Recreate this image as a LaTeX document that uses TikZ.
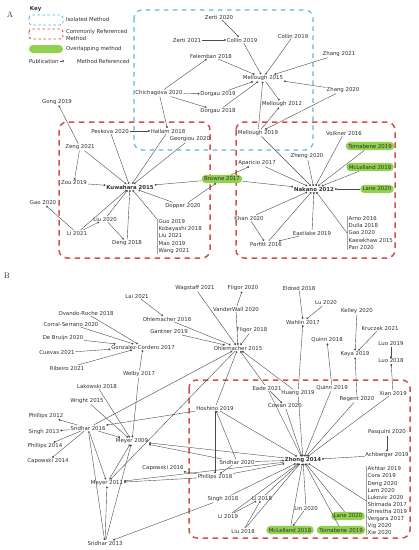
\documentclass[tikz,border=0pt]{standalone}
\usepackage{fontspec}
\newfontfamily\pubfont{DejaVu Sans}
\usetikzlibrary{arrows.meta}
\definecolor{txt}{HTML}{303030}
\definecolor{lin}{HTML}{4A4A4A}
\definecolor{kblue}{HTML}{5BB5E5}
\definecolor{kred}{HTML}{D0504D}
\definecolor{kgreen}{HTML}{92D050}
\definecolor{barg}{HTML}{A0A0A0}
\begin{document}
\begin{tikzpicture}[x=1pt,y=-1pt,
 pub/.style={font=\pubfont\fontsize{5.4}{7.1}\selectfont, text=txt, inner sep=0.8pt},
 pubb/.style={pub, font=\pubfont\bfseries\fontsize{5.4}{7.1}\selectfont},
 over/.style={pub, fill=kgreen, rounded corners=4pt, inner xsep=2.5pt, inner ysep=2pt},
 ref/.style={draw=lin, line width=0.4pt, -{Circle[length=1.9pt]}},
 isobox/.style={draw=kblue, line width=1.2pt, dash pattern=on 4.5pt off 4.5pt, rounded corners=8pt},
 combox/.style={draw=kred, line width=1.5pt, dash pattern=on 5.5pt off 4.5pt, rounded corners=8pt},
 plist/.style={pub, align=left, inner xsep=1.5pt, inner ysep=0.5pt},
 listbar/.style={draw=barg, line width=1pt},
 panel/.style={font=\fontsize{8}{9}\selectfont, text=txt},
]
\useasboundingbox (0,0) rectangle (419,550);
% ---------------- key ----------------
\node[panel] (lblA) at (10,15) {A};
\node[panel] (lblB) at (7,276) {B};
\node[pubb, anchor=west] (ktitle) at (29,9) {Key};
\draw[isobox, line width=0.9pt, dash pattern=on 2.5pt off 2.5pt, rounded corners=3pt] (29,15) rectangle (63,25);
\node[pub, anchor=west] (kiso) at (65,19) {Isolated Method};
\draw[combox, line width=0.9pt, dash pattern=on 2.5pt off 2.5pt, rounded corners=3pt] (29,29) rectangle (63,39);
\node[pub, anchor=west, align=left] (kcom) at (65,35) {Commonly Referenced\\Method};
\fill[kgreen, rounded corners=4pt] (29,45) rectangle (63,53);
\node[pub, anchor=west] (kover) at (65,49) {Overlapping method};
\node[pub, anchor=west] (kpub) at (28,61) {Publication};
\coordinate (kend) at (64,61);
\draw[ref] (kpub) -- (kend);
\node[pub, anchor=west] (kmeth) at (76,61) {Method Referenced};
% ---------------- boxes A ----------------
\draw[isobox] (134,10) rectangle (313,150);
\draw[combox] (59,122) rectangle (210,258);
\draw[combox] (236,122) rectangle (395,258);
% ---------------- nodes A ----------------
\node[pub] (zerti20) at (219,17) {Zerti 2020};
\node[pub] (zerti21) at (187,40) {Zerti 2021};
\node[pub] (collinL) at (242,40) {Collin 2019};
\node[pub] (collinR) at (293,36) {Collin 2019};
\node[pub] (felemban) at (211,56) {Felemban 2018};
\node[pub] (mellough15) at (263,78) {Mellough 2015};
\node[pub] (zhang21) at (339,54) {Zhang 2021};
\node[pub] (zhang20) at (343,90) {Zhang 2020};
\node[pub] (chicha) at (159,93) {Chichagova 2020};
\node[pub] (dorgau19) at (218,94) {Dorgau 2019};
\node[pub] (dorgau18) at (218,111) {Dorgau 2018};
\node[pub] (mellough12) at (282,104) {Mellough 2012};
\node[pub] (mellough19) at (258,133) {Mellough 2019};
\node[pub] (hallam) at (168,131) {Hallam 2018};
\node[pub] (georgiou) at (190,139) {Georgiou 2020};
\node[pub] (peskova) at (110,131) {Peskova 2020};
\node[pub] (gong) at (57,102) {Gong 2019};
\node[pub] (zeng) at (80,147) {Zeng 2021};
\node[pub] (zou) at (74,183) {Zou 2019};
\node[pubb] (kuwahara) at (130,187) {Kuwahara 2015};
\node[pub] (gao) at (43,203) {Gao 2020};
\node[pub] (liu20) at (105,219) {Liu 2020};
\node[pub] (li21) at (77,233) {Li 2021};
\node[pub] (deng18) at (127,243) {Deng 2018};
\node[over] (browne) at (222,179) {Browne 2017};
\node[pub] (dopper) at (183,206) {Dopper 2020};
\node[plist, anchor=north west] (listK) at (157,219) {Guo 2019\\Kobayashi 2018\\Liu 2021\\Mao 2019\\Wang 2021};
\draw[listbar] (listK.north west) -- (listK.south west);
\node[pub] (aparicio) at (257,163) {Aparicio 2017};
\node[pub] (zheng) at (307,156) {Zheng 2020};
\node[pub] (volkner) at (344,133) {Volkner 2016};
\node[over] (tornabeneA) at (370,146) {Tornabene 2019};
\node[over] (mclellandA) at (370,167) {McLelland 2018};
\node[over] (laneA) at (377,189) {Lane 2020};
\node[pubb] (nakano) at (314,189) {Nakano 2012};
\node[pub] (khan) at (249,218) {Khan 2020};
\node[pub] (parfitt) at (266,244) {Parfitt 2016};
\node[pub] (eastlake) at (312,233) {Eastlake 2019};
\node[plist, anchor=north west] (listN) at (347,216) {Arno 2016\\Dulla 2018\\Gao 2020\\Kaewkhaw 2015\\Pan 2020};
\draw[listbar] (listN.north west) -- (listN.south west);
% ---------------- edges A ----------------
\draw[ref] (zerti20) -- (collinL);
\draw[ref] (zerti21) -- (collinL);
\draw[ref] (collinL) -- (mellough15);
\draw[ref] (felemban) -- (mellough15);
\draw[ref] (chicha) -- (felemban);
\draw[ref] (chicha) -- (dorgau19);
\draw[ref] (chicha) -- (dorgau18);
\draw[ref] (chicha) -- (hallam);
\draw[ref] (dorgau19) -- (mellough15);
\draw[ref] (dorgau18) -- (mellough15);
\draw[ref] (collinR) -- (mellough15);
\draw[ref] (zhang21) -- (mellough15);
\draw[ref] (zhang20) -- (mellough15);
\draw[ref] (zhang20) -- (mellough19);
\draw[ref] (mellough15) -- (mellough12);
\draw[ref] (mellough19) -- (mellough12);
\draw[ref] (mellough19) -- (mellough15);
\draw[ref] (mellough19) -- (nakano);
\draw[ref] (peskova) -- (hallam);
\draw[ref] (peskova) -- (kuwahara);
\draw[ref] (hallam) -- (kuwahara);
\draw[ref] (georgiou) -- (kuwahara);
\draw[ref] (zeng) -- (gong);
\draw[ref] (zeng) -- (zou);
\draw[ref] (zeng) -- (kuwahara);
\draw[ref] (zou) -- (kuwahara);
\draw[ref] (li21) -- (gao);
\draw[ref] (li21) -- (kuwahara);
\draw[ref] (li21) -- (liu20);
\draw[ref] (liu20) -- (kuwahara);
\draw[ref] (liu20) -- (deng18);
\draw[ref] (deng18) -- (kuwahara);
\draw[ref] (browne) -- (kuwahara);
\draw[ref] (dopper) -- (browne);
\draw[ref] (dopper) -- (kuwahara);
\draw[ref] (listK.north west) -- (kuwahara);
\draw[ref] (browne) -- (nakano);
\draw[ref] (browne) -- (aparicio);
\draw[ref] (aparicio) -- (nakano);
\draw[ref] (zheng) -- (nakano);
\draw[ref] (volkner) -- (nakano);
\draw[ref] (tornabeneA) -- (nakano);
\draw[ref] (mclellandA) -- (nakano);
\draw[ref] (laneA) -- (nakano);
\draw[ref] (khan) -- (nakano);
\draw[ref] (khan) -- (parfitt);
\draw[ref] (parfitt) -- (nakano);
\draw[ref] (eastlake) -- (parfitt);
\draw[ref] (eastlake) -- (nakano);
\draw[ref] (listN.west) -- (nakano);
% ---------------- box B ----------------
\draw[combox] (189,380) rectangle (410,538);
% ---------------- nodes B ----------------
\node[pub] (lai) at (137,296) {Lai 2021};
\node[pub] (ovando) at (86,313) {Ovando-Roche 2018};
\node[pub] (corral) at (71,324) {Corral-Serrano 2020};
\node[pub] (debruijn) at (63,338) {De Bruijn 2020};
\node[pub] (cuevas) at (57,353) {Cuevas 2021};
\node[pub] (ribeiro) at (67,368) {Ribeiro 2021};
\node[pub] (gonzalez) at (143,347) {Gonzalez-Cordero 2017};
\node[pub] (welby) at (139,374) {Welby 2017};
\node[pub] (lakowski) at (97,386) {Lakowski 2018};
\node[pub] (wright) at (87,401) {Wright 2015};
\node[pub] (phillips12) at (46,416) {Phillips 2012};
\node[pub] (singh13) at (44,432) {Singh 2013};
\node[pub] (phillips14) at (45,446) {Phillips 2014};
\node[pub] (capowski14) at (48,461) {Capowski 2014};
\node[pub] (sridhar16) at (88,428) {Sridhar 2016};
\node[pub] (meyer09) at (132,441) {Meyer 2009};
\node[pub] (meyer11) at (107,483) {Meyer 2011};
\node[pub] (sridhar13) at (105,543) {Sridhar 2013};
\node[pub] (wagstaff) at (195,288) {Wagstaff 2021};
\node[pub] (fligor20) at (243,288) {Fligor 2020};
\node[pub] (vanderwall) at (236,309) {VanderWall 2020};
\node[pub] (ohl16) at (167,319) {Ohlemacher 2016};
\node[pub] (gantner) at (169,332) {Gantner 2019};
\node[pub] (fligor18) at (252,330) {Fligor 2018};
\node[pub] (ohl15) at (238,348) {Ohlemacher 2015};
\node[pub] (eldred) at (299,288) {Eldred 2018};
\node[pub] (lu20) at (326,303) {Lu 2020};
\node[pub] (wahlin) at (303,322) {Wahlin 2017};
\node[pub] (quinn18) at (327,340) {Quinn 2018};
\node[pub] (kelley) at (357,311) {Kelley 2020};
\node[pub] (kruczek) at (380,328) {Kruczek 2021};
\node[pub] (kaya) at (355,354) {Kaya 2019};
\node[pub] (luo19) at (391,344) {Luo 2019};
\node[pub] (luo18) at (391,361) {Luo 2018};
\node[pub] (eade) at (267,388) {Eade 2021};
\node[pub] (cowan) at (285,406) {Cowan 2020};
\node[pub] (huang) at (298,393) {Huang 2019};
\node[pub] (quinn19) at (332,388) {Quinn 2019};
\node[pub] (regent) at (357,399) {Regent 2020};
\node[pub] (xian) at (393,393) {Xian 2019};
\node[pub] (hoshino) at (215,408) {Hoshino 2019};
\node[pub] (sridhar20) at (237,462) {Sridhar 2020};
\node[pub] (capowski16) at (163,468) {Capowski 2016};
\node[pub] (phillips18) at (215,477) {Phillips 2018};
\node[pub] (singh18) at (223,499) {Singh 2018};
\node[pub] (li18) at (262,498) {Li 2018};
\node[pub] (li19) at (228,516) {Li 2019};
\node[pub] (liu18) at (243,531) {Liu 2018};
\node[over] (mclellandB) at (290,530) {McLelland 2018};
\node[pub] (lin) at (306,508) {Lin 2020};
\node[over] (laneB) at (348,516) {Lane 2020};
\node[over] (tornabeneB) at (341,530) {Tornabene 2019};
\node[pubb] (zhong) at (303,460) {Zhong 2014};
\node[pub] (pasquini) at (387,432) {Pasquini 2020};
\node[pub] (achberger) at (387,455) {Achberger 2019};
\node[plist, anchor=north west] (listZ) at (366,466) {Akhtar 2019\\Cora 2019\\Deng 2020\\Lam 2020\\Lukovic 2020\\Shimada 2017\\Shrestha 2019\\Vergara 2017\\Vig 2020\\Xie 2020};
\draw[listbar] (listZ.north west) -- (listZ.south west);
% ---------------- edges B ----------------
\draw[ref] (lai) -- (ohl16);
\draw[ref] (ovando) -- (gonzalez);
\draw[ref] (corral) -- (gonzalez);
\draw[ref] (debruijn) -- (gonzalez);
\draw[ref] (cuevas) -- (gonzalez);
\draw[ref] (ribeiro) -- (gonzalez);
\draw[ref] (welby) -- (gonzalez);
\draw[ref] (welby) -- (meyer09);
\draw[ref] (lakowski) -- (meyer09);
\draw[ref] (wright) -- (meyer09);
\draw[ref] (sridhar16) -- (phillips12);
\draw[ref] (sridhar16) -- (singh13);
\draw[ref] (sridhar16) -- (phillips14);
\draw[ref] (sridhar16) -- (capowski14);
\draw[ref] (sridhar16) -- (meyer09);
\draw[ref] (sridhar16) -- (meyer11);
\draw[ref] (sridhar16) -- (sridhar13);
\draw[ref] (sridhar16) -- (ohl15);
\draw[ref] (hoshino) -- (sridhar16);
\draw[ref] (meyer11) -- (meyer09);
\draw[ref] (sridhar13) -- (meyer11);
\draw[ref] (sridhar13) -- (meyer09);
\draw[ref] (singh18) -- (sridhar13);
\draw[ref] (sridhar20) -- (meyer09);
\draw[ref] (zhong) -- (meyer09);
\draw[ref] (phillips18) -- (meyer11);
\draw[ref] (zhong) -- (meyer11);
\draw[ref] (ohl15) -- (meyer11);
\draw[ref] (phillips18) -- (capowski16);
\draw[ref] (hoshino) -- (phillips18);
\draw[ref] (sridhar20) -- (hoshino);
\draw[ref] (sridhar20) -- (phillips18);
\draw[ref] (hoshino) -- (zhong);
\draw[ref] (hoshino) -- (ohl15);
\draw[ref] (ohl16) -- (ohl15);
\draw[ref] (gantner) -- (ohl15);
\draw[ref] (wagstaff) -- (ohl15);
\draw[ref] (vanderwall) -- (ohl15);
\draw[ref] (vanderwall) -- (fligor20);
\draw[ref] (fligor18) -- (ohl15);
\draw[ref] (huang) -- (ohl15);
\draw[ref] (eade) -- (ohl15);
\draw[ref] (eade) -- (cowan);
\draw[ref] (eldred) -- (wahlin);
\draw[ref] (lu20) -- (wahlin);
\draw[ref] (huang) -- (wahlin);
\draw[ref] (quinn19) -- (quinn18);
\draw[ref] (kelley) -- (kaya);
\draw[ref] (kruczek) -- (kaya);
\draw[ref] (regent) -- (kaya);
\draw[ref] (luo19) -- (luo18);
\draw[ref] (xian) -- (luo18);
\draw[ref] (pasquini) -- (achberger);
\draw[ref] (achberger) -- (zhong);
\draw[ref] (xian) -- (zhong);
\draw[ref] (regent) -- (zhong);
\draw[ref] (quinn19) -- (zhong);
\draw[ref] (huang) -- (zhong);
\draw[ref] (cowan) -- (zhong);
\draw[ref] (eade) -- (zhong);
\draw[ref] (sridhar20) -- (zhong);
\draw[ref] (phillips18) -- (zhong);
\draw[ref] (singh18) -- (zhong);
\draw[ref] (li19) -- (zhong);
\draw[ref] (li18) -- (zhong);
\draw[ref] (liu18) -- (zhong);
\draw[ref] (li19) -- (li18);
\draw[ref] (liu18) -- (li18);
\draw[ref] (lin) -- (mclellandB);
\draw[ref] (lin) -- (zhong);
\draw[ref] (laneB) -- (zhong);
\draw[ref] (tornabeneB) -- (zhong);
\draw[ref] (mclellandB) -- (zhong);
\draw[ref] (listZ.west) -- (zhong);
\end{tikzpicture}
\end{document}
